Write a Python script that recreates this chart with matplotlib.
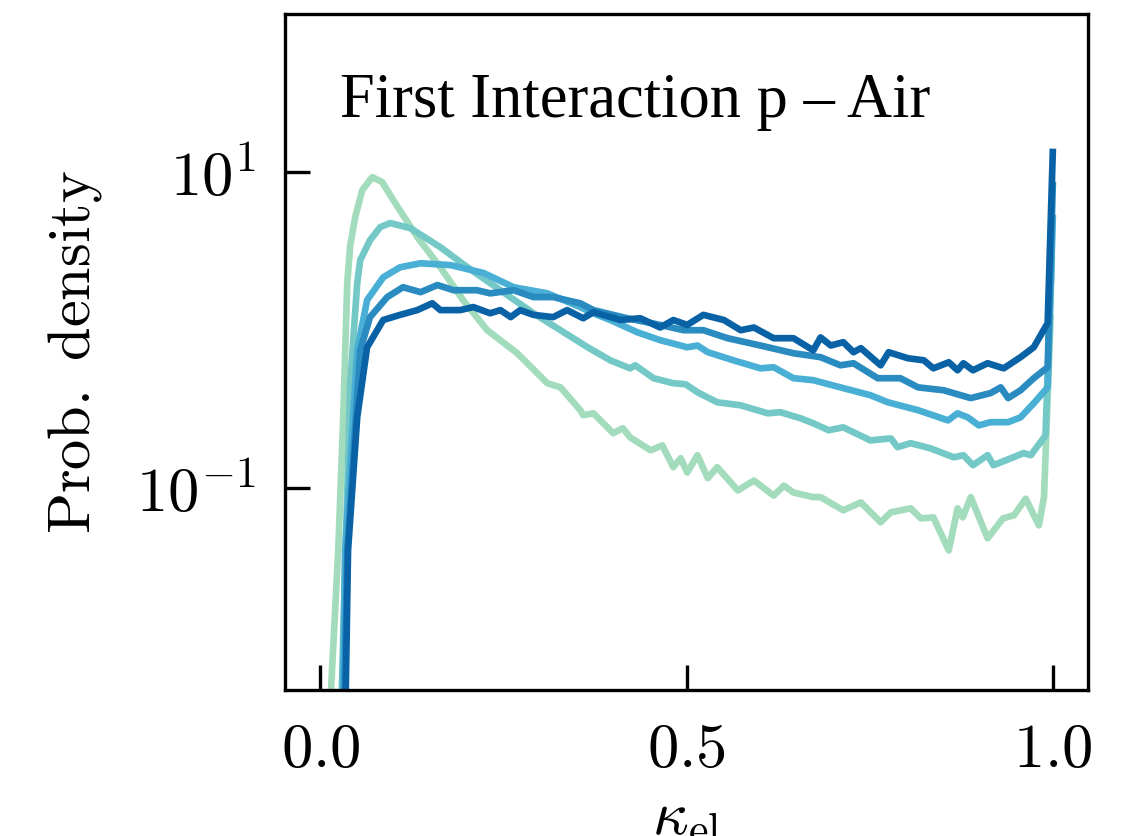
import matplotlib
matplotlib.use("Agg")
import matplotlib.pyplot as plt

plt.rcParams['mathtext.fontset'] = 'cm'
plt.rcParams['font.family'] = 'serif'
plt.rcParams['font.serif'] = ['DejaVu Serif']

# five kappa_el distributions, light -> dark
x_green = [0.012, 0.0246, 0.0314, 0.0369, 0.041, 0.0478, 0.0574, 0.071, 0.0847, 0.0997, 0.1325, 0.164,
           0.195, 0.228, 0.269,
           0.310, 0.328, 0.355, 0.359, 0.373, 0.400, 0.413, 0.423, 0.451, 0.467, 0.482, 0.492, 0.501,
           0.515, 0.529, 0.542, 0.570, 0.592, 0.619, 0.633, 0.646, 0.673, 0.683, 0.714, 0.738, 0.765,
           0.779, 0.806, 0.820, 0.837, 0.858, 0.870, 0.877, 0.888, 0.911, 0.932, 0.947, 0.963, 0.981,
           0.988, 0.997]
y_green = [0.003, 0.0405, 0.281, 1.98, 3.45, 5.19, 7.69, 9.3, 8.64, 6.65, 3.88, 2.50,
           1.55, 1.00, 0.715,
           0.462, 0.435, 0.312, 0.29, 0.298, 0.223, 0.24, 0.21, 0.174, 0.187, 0.136, 0.155, 0.126,
           0.162, 0.116, 0.136, 0.097, 0.112, 0.090, 0.104, 0.094, 0.088, 0.088, 0.0726, 0.0815, 0.061,
           0.0705, 0.0747, 0.0645, 0.0655, 0.0405, 0.0747, 0.0655, 0.088, 0.0483, 0.0645, 0.0675, 0.086, 0.0583,
           0.088, 1.19]

x_teal = [0.028, 0.041, 0.0505, 0.0546, 0.068, 0.082, 0.0956, 0.123, 0.164, 0.201, 0.246, 0.291, 0.328, 0.365,
          0.396, 0.423, 0.430, 0.455, 0.482, 0.499, 0.515, 0.542, 0.574, 0.611, 0.628, 0.656,
          0.673, 0.694, 0.714, 0.751, 0.779, 0.788, 0.806, 0.833, 0.865, 0.878, 0.891, 0.911,
          0.919, 0.943, 0.960, 0.970, 0.990, 0.9986]
y_teal = [0.003, 0.462, 1.98, 2.77, 3.71, 4.49, 4.76, 4.42, 3.35, 2.50, 1.79, 1.28, 1.00, 0.78,
          0.645, 0.574, 0.60, 0.497, 0.462, 0.455, 0.405, 0.35, 0.335, 0.298, 0.303, 0.277,
          0.258, 0.233, 0.243, 0.201, 0.207, 0.182, 0.193, 0.179, 0.157, 0.162, 0.14, 0.162,
          0.14, 0.155, 0.167, 0.162, 0.216, 2.77]

x_lblue = [0.030, 0.034, 0.0505, 0.064, 0.086, 0.109, 0.137, 0.178, 0.223, 0.264, 0.310, 0.355,
           0.369, 0.396, 0.433, 0.464, 0.501, 0.515, 0.529, 0.564, 0.601, 0.619, 0.646, 0.673,
           0.710, 0.751, 0.775, 0.816, 0.857, 0.870, 0.884, 0.899, 0.915, 0.939, 0.956, 0.974,
           0.993, 1.0]
y_lblue = [0.003, 0.0405, 0.746, 1.55, 2.16, 2.50, 2.65, 2.58, 2.30, 1.87, 1.71, 1.40,
           1.30, 1.16, 0.97, 0.865, 0.78, 0.80, 0.726, 0.645, 0.574, 0.583, 0.497, 0.483,
           0.435, 0.388, 0.35, 0.312, 0.269, 0.298, 0.281, 0.25, 0.262, 0.262, 0.281, 0.345,
           0.435, 5.12]

x_mblue = [0.032, 0.0369, 0.0546, 0.068, 0.0915, 0.113, 0.137, 0.160, 0.182, 0.214, 0.232, 0.264,
           0.291, 0.318, 0.355, 0.373, 0.419, 0.464, 0.496, 0.523, 0.556, 0.601, 0.646, 0.683,
           0.710, 0.728, 0.761, 0.792, 0.816, 0.851, 0.888, 0.915, 0.929, 0.939, 0.956, 0.974,
           0.993, 1.0]
y_mblue = [0.003, 0.0405, 0.746, 1.21, 1.62, 1.87, 1.74, 1.93, 1.79, 1.79, 1.71, 1.79,
           1.62, 1.62, 1.48, 1.34, 1.19, 1.08, 1.00, 1.00, 0.89, 0.80, 0.715, 0.675,
           0.60, 0.618, 0.497, 0.497, 0.435, 0.417, 0.372, 0.40, 0.435, 0.372, 0.417, 0.497,
           0.583, 8.28]

x_dblue = [0.034, 0.038, 0.0505, 0.064, 0.086, 0.109, 0.1325, 0.153, 0.164, 0.191, 0.209, 0.232,
           0.246, 0.260, 0.273, 0.291, 0.318, 0.337, 0.359, 0.373, 0.410, 0.437, 0.464, 0.482,
           0.501, 0.523, 0.551, 0.574, 0.592, 0.619, 0.646, 0.673, 0.683, 0.697, 0.714, 0.728,
           0.738, 0.765, 0.776, 0.802, 0.824, 0.837, 0.858, 0.870, 0.878, 0.891, 0.911, 0.933,
           0.956, 0.974, 0.993, 1.0]
y_dblue = [0.003, 0.0405, 0.281, 0.78, 1.16, 1.25, 1.34, 1.48, 1.34, 1.34, 1.40, 1.28,
           1.34, 1.21, 1.34, 1.25, 1.21, 1.34, 1.19, 1.30, 1.16, 1.19, 1.04, 1.16,
           1.08, 1.25, 1.16, 1.00, 1.04, 0.89, 0.89, 0.746, 0.90, 0.80, 0.84, 0.726,
           0.77, 0.60, 0.726, 0.665, 0.645, 0.574, 0.627, 0.558, 0.618, 0.558, 0.618, 0.574,
           0.675, 0.78, 1.11, 13.4]

curves = [(x_green, y_green), (x_teal, y_teal), (x_lblue, y_lblue), (x_mblue, y_mblue), (x_dblue, y_dblue)]
colors = ['#a3dcbc', '#74c9c6', '#4aafd4', '#2a8bc0', '#0a62a6']

xtick_vals = [0.0, 0.5, 1.0]
xtick_labels = [r'$0.0$', r'$0.5$', r'$1.0$']
ytick_vals = [1e-1, 1e1]
ytick_labels = [r'$10^{-1}$', r'$10^{1}$']

fig = plt.figure(figsize=(3.76, 8.36 / 3), dpi=300)
ax = fig.add_axes([0.2527, 0.1746, 0.9645 - 0.2527, 0.9833 - 0.1746])

for (xs, ys), c in zip(curves, colors):
    ax.plot(xs, ys, color=c, lw=1.6, solid_joinstyle='round')

ax.set_yscale('log')
ax.set_xlim(-0.048, 1.048)
ax.set_ylim(5.3e-3, 100)
ax.set_xticks(xtick_vals)
ax.set_xticklabels(xtick_labels)
ax.set_yticks(ytick_vals)
ax.set_yticklabels(ytick_labels)
ax.yaxis.set_minor_locator(matplotlib.ticker.NullLocator())
ax.tick_params(direction='in', length=6, width=0.8, labelsize=15, pad=7)
for s in ax.spines.values():
    s.set_linewidth(0.8)

ax.set_ylabel(r'$\mathrm{Prob.\ density}$', fontsize=14.5)
ax.yaxis.set_label_coords(-0.225, 0.5)
ax.set_xlabel(r'$\kappa_{\rm el}$', fontsize=15)
ax.xaxis.set_label_coords(0.5, -0.142)

ax.text(0.068, 0.848, 'First Interaction p \u2013 Air', transform=ax.transAxes,
        fontsize=15, family='Liberation Serif', va='baseline')

fig.savefig('out.png', dpi=300)
